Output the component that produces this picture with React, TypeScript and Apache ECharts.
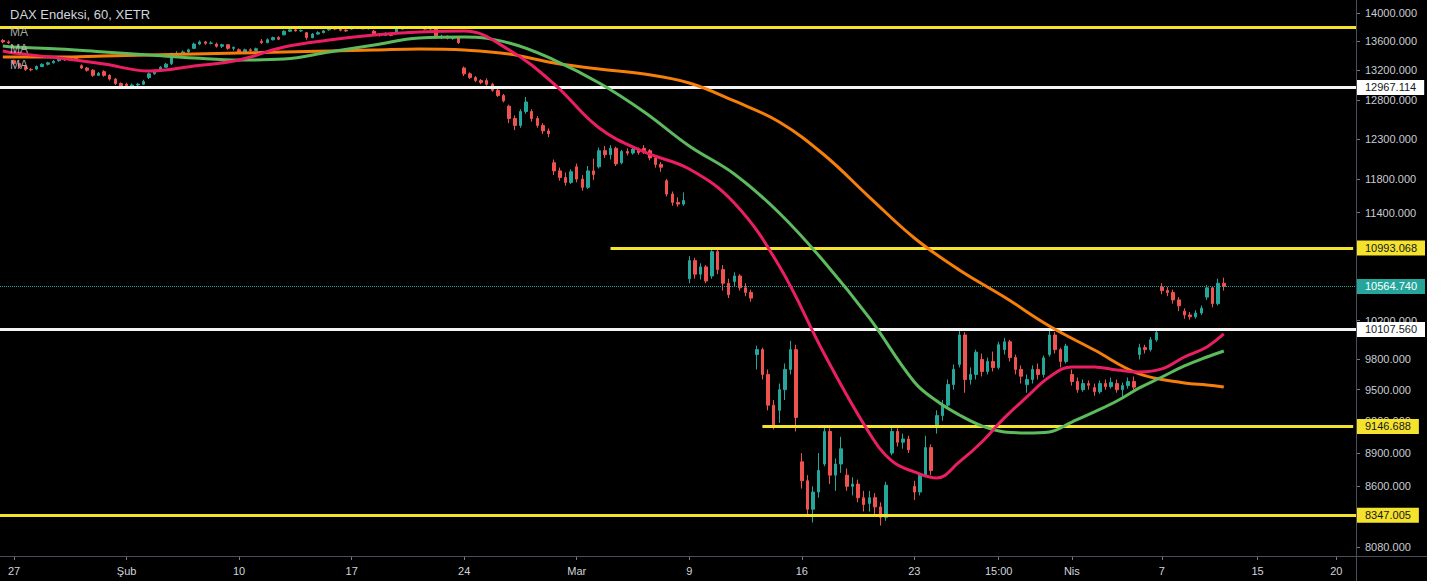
import React, { useEffect, useRef } from 'react';
import * as echarts from 'echarts';

// ---------- DATA ----------
const preDay = '24 Oca';
const preSlots = ['13:00', '15:00'];
const slots = ['09:00', '11:00', '13:00', '15:00'];
const tradingDays = [
  '27 Oca', '28 Oca', '29 Oca', '30 Oca', '31 Oca',
  '3 Şub', '4 Şub', '5 Şub', '6 Şub', '7 Şub',
  '10 Şub', '11 Şub', '12 Şub', '13 Şub', '14 Şub',
  '17 Şub', '18 Şub', '19 Şub', '20 Şub', '21 Şub',
  '24 Şub', '25 Şub', '26 Şub', '27 Şub', '28 Şub',
  '2 Mar', '3 Mar', '4 Mar', '5 Mar', '6 Mar',
  '9 Mar', '10 Mar', '11 Mar', '12 Mar', '13 Mar',
  '16 Mar', '17 Mar', '18 Mar', '19 Mar', '20 Mar',
  '23 Mar', '24 Mar', '25 Mar', '26 Mar', '27 Mar',
  '30 Mar', '31 Mar', '1 Nis', '2 Nis', '3 Nis',
  '6 Nis', '7 Nis', '8 Nis', '9 Nis',
];
const futureDays = ['14 Nis', '15 Nis', '16 Nis', '17 Nis', '20 Nis', '21 Nis'];
const futureBarCount = 23;

const categories: string[] = [
  ...preSlots.map((s) => `${preDay} ${s}`),
  ...tradingDays.flatMap((d) => slots.map((s) => `${d} ${s}`)),
  ...futureDays.flatMap((d) => slots.map((s) => `${d} ${s}`)).slice(0, futureBarCount),
];

// [open, close, low, high]
const candles: number[][] = [
  [13610, 13590, 13570, 13630], [13590, 13577, 13560, 13610],
  [13330, 13290, 13270, 13345], [13290, 13250, 13230, 13300], [13250, 13210, 13190, 13265], [13210, 13205, 13185, 13230],
  [13215, 13250, 13200, 13265], [13250, 13280, 13240, 13295], [13280, 13300, 13265, 13315], [13300, 13323, 13290, 13340],
  [13330, 13350, 13315, 13365], [13350, 13340, 13325, 13370], [13340, 13370, 13330, 13385], [13370, 13345, 13335, 13390],
  [13260, 13230, 13215, 13280], [13230, 13200, 13180, 13245], [13200, 13130, 13110, 13215], [13130, 13157, 13120, 13175],
  [13180, 13130, 13110, 13200], [13130, 13080, 13060, 13145], [13080, 13020, 13000, 13095], [13020, 12982, 12960, 13035],
  [13010, 12990, 12970, 13030], [12990, 13000, 12960, 13020], [13000, 13010, 12985, 13030], [13010, 13046, 13000, 13070],
  [13100, 13150, 13080, 13170], [13150, 13190, 13140, 13210], [13190, 13240, 13180, 13255], [13240, 13282, 13230, 13300],
  [13290, 13420, 13270, 13440], [13420, 13430, 13400, 13460], [13430, 13450, 13410, 13470], [13450, 13479, 13430, 13495],
  [13500, 13560, 13490, 13580], [13560, 13590, 13545, 13610], [13590, 13570, 13550, 13605], [13570, 13575, 13555, 13600],
  [13560, 13530, 13510, 13580], [13530, 13550, 13505, 13565], [13550, 13500, 13480, 13560], [13500, 13514, 13470, 13525],
  [13480, 13450, 13430, 13500], [13450, 13480, 13440, 13495], [13480, 13470, 13455, 13500], [13470, 13494, 13460, 13510],
  [13600, 13580, 13560, 13630], [13580, 13620, 13570, 13640], [13620, 13650, 13610, 13665], [13650, 13627, 13615, 13670],
  [13690, 13740, 13680, 13755], [13740, 13760, 13730, 13775], [13760, 13745, 13735, 13780], [13745, 13749, 13730, 13765],
  [13720, 13650, 13620, 13730], [13650, 13700, 13640, 13715], [13700, 13720, 13690, 13740], [13720, 13745, 13710, 13755],
  [13760, 13780, 13745, 13795], [13780, 13770, 13755, 13800], [13770, 13755, 13740, 13785], [13755, 13744, 13730, 13770],
  [13770, 13785, 13760, 13800], [13785, 13790, 13770, 13805], [13790, 13775, 13765, 13800], [13775, 13783, 13765, 13795],
  [13740, 13700, 13685, 13760], [13700, 13680, 13665, 13715], [13680, 13710, 13670, 13725], [13710, 13681, 13670, 13720],
  [13730, 13770, 13720, 13785], [13770, 13790, 13760, 13805], [13790, 13780, 13770, 13810], [13780, 13789, 13770, 13800],
  [13800, 13790, 13775, 13815], [13790, 13770, 13760, 13805], [13770, 13780, 13755, 13795], [13780, 13665, 13630, 13790],
  [13650, 13670, 13630, 13690], [13670, 13640, 13625, 13680], [13640, 13650, 13620, 13665], [13650, 13579, 13560, 13660],
  [13230, 13150, 13120, 13250], [13150, 13100, 13080, 13170], [13100, 13060, 13040, 13120], [13060, 13035, 13010, 13080],
  [13060, 13010, 12990, 13090], [13010, 12930, 12910, 13030], [12930, 12860, 12840, 12950], [12860, 12790, 12770, 12880],
  [12720, 12560, 12500, 12740], [12560, 12470, 12410, 12600], [12470, 12650, 12440, 12680], [12650, 12775, 12620, 12840],
  [12650, 12560, 12520, 12680], [12560, 12470, 12440, 12590], [12470, 12400, 12360, 12500], [12400, 12367, 12320, 12430],
  [12000, 11900, 11850, 12040], [11900, 11820, 11780, 11940], [11820, 11760, 11720, 11880], [11760, 11890, 11740, 11920],
  [11950, 11800, 11760, 11990], [11800, 11700, 11660, 11850], [11700, 11900, 11680, 11960], [11900, 11857, 11790, 12050],
  [11950, 12150, 11930, 12190], [12150, 12100, 12060, 12210], [12100, 12180, 12040, 12220], [12180, 11986, 11960, 12200],
  [12000, 12140, 11980, 12160], [12140, 12120, 12090, 12180], [12120, 12170, 12100, 12200], [12170, 12128, 12100, 12190],
  [12180, 12150, 12110, 12220], [12150, 12060, 12030, 12170], [12060, 11980, 11940, 12080], [11980, 11945, 11890, 12010],
  [11780, 11620, 11590, 11800], [11620, 11520, 11480, 11650], [11520, 11500, 11470, 11580], [11500, 11542, 11480, 11640],
  [10650, 10850, 10600, 10900], [10850, 10700, 10650, 10880], [10700, 10780, 10640, 10820], [10780, 10625, 10600, 10800],
  [10680, 10950, 10650, 11000], [10950, 10750, 10700, 10990], [10750, 10600, 10520, 10800], [10600, 10475, 10440, 10650],
  [10620, 10680, 10560, 10720], [10680, 10550, 10520, 10700], [10550, 10500, 10460, 10600], [10500, 10439, 10400, 10530],
  [9850, 9900, 9700, 9940], [9900, 9650, 9600, 9920], [9650, 9350, 9300, 9700], [9350, 9161, 9120, 9400],
  [9300, 9500, 9180, 9560], [9500, 9700, 9400, 9760], [9700, 9900, 9650, 9990], [9900, 9232, 9100, 9950],
  [8820, 8650, 8580, 8900], [8650, 8400, 8350, 8700], [8400, 8550, 8285, 8600], [8550, 8742, 8500, 8900],
  [8800, 9100, 8780, 9160], [9100, 8700, 8620, 9130], [8700, 8800, 8560, 8850], [8800, 8939, 8720, 9050],
  [8700, 8600, 8560, 8760], [8600, 8620, 8520, 8680], [8620, 8500, 8460, 8660], [8500, 8441, 8380, 8560],
  [8450, 8500, 8380, 8560], [8500, 8420, 8350, 8540], [8420, 8330, 8260, 8460], [8330, 8610, 8300, 8640],
  [8900, 9100, 8880, 9150], [9100, 9000, 8960, 9130], [9000, 9030, 8940, 9080], [9030, 8929, 8900, 9060],
  [8600, 8550, 8480, 8650], [8550, 8700, 8520, 8720], [8700, 8950, 8680, 9060], [8950, 8741, 8700, 8980],
  [9150, 9250, 9080, 9300], [9250, 9350, 9200, 9400], [9350, 9550, 9320, 9600], [9550, 9701, 9500, 9750],
  [9750, 10050, 9720, 10120], [10050, 9600, 9470, 10080], [9600, 9650, 9550, 9720], [9650, 9874, 9600, 9900],
  [9800, 9680, 9630, 9860], [9680, 9780, 9650, 9820], [9780, 9720, 9680, 9880], [9720, 9950, 9700, 9980],
  [9900, 9980, 9850, 10020], [9980, 9820, 9780, 10000], [9820, 9700, 9650, 9850], [9700, 9633, 9560, 9740],
  [9550, 9600, 9470, 9650], [9600, 9700, 9560, 9740], [9700, 9650, 9600, 9760], [9650, 9816, 9620, 9840],
  [9850, 10050, 9830, 10100], [10050, 9900, 9860, 10080], [9900, 9780, 9720, 9920], [9780, 9936, 9760, 9960],
  [9650, 9580, 9540, 9700], [9580, 9500, 9470, 9620], [9500, 9560, 9480, 9600], [9560, 9544, 9500, 9590],
  [9520, 9480, 9440, 9560], [9480, 9560, 9460, 9590], [9560, 9530, 9500, 9600], [9530, 9571, 9510, 9620],
  [9560, 9500, 9470, 9600], [9500, 9540, 9420, 9570], [9540, 9580, 9510, 9620], [9580, 9525, 9500, 9630],
  [9850, 9920, 9800, 9960], [9920, 9900, 9860, 9950], [9900, 10000, 9880, 10030], [10000, 10075, 9980, 10110],
  [10560, 10520, 10480, 10600], [10520, 10500, 10460, 10560], [10500, 10420, 10380, 10530], [10420, 10357, 10300, 10450],
  [10300, 10260, 10220, 10330], [10260, 10240, 10210, 10290], [10240, 10280, 10220, 10310], [10280, 10332, 10260, 10360],
  [10450, 10550, 10420, 10580], [10550, 10380, 10340, 10570], [10380, 10600, 10360, 10650], [10600, 10564.74, 10520, 10660],
];

const maFast: [string, number][] = [
  ['24 Oca 13:00', 13463], ['27 Oca 09:00', 13435], ['29 Oca 09:00', 13366], ['31 Oca 09:00', 13284],
  ['4 Şub 09:00', 13189], ['6 Şub 09:00', 13257], ['10 Şub 09:00', 13339], ['12 Şub 09:00', 13518],
  ['14 Şub 09:00', 13616], ['18 Şub 09:00', 13687], ['20 Şub 09:00', 13729], ['24 Şub 09:00', 13743],
  ['26 Şub 09:00', 13477], ['28 Şub 09:00', 13013], ['3 Mar 09:00', 12437], ['5 Mar 09:00', 12134],
  ['9 Mar 09:00', 11923], ['11 Mar 09:00', 11513], ['13 Mar 09:00', 10790], ['17 Mar 09:00', 9856],
  ['19 Mar 09:00', 9086], ['20 Mar 09:00', 8828], ['23 Mar 09:00', 8729], ['24 Mar 09:00', 8675],
  ['25 Mar 09:00', 8819], ['26 Mar 09:00', 9002], ['27 Mar 09:00', 9228], ['30 Mar 09:00', 9429],
  ['31 Mar 09:00', 9625], ['1 Nis 09:00', 9725], ['2 Nis 09:00', 9725], ['3 Nis 09:00', 9695],
  ['6 Nis 09:00', 9675], ['7 Nis 09:00', 9705], ['8 Nis 09:00', 9825], ['9 Nis 09:00', 9927],
  ['9 Nis 15:00', 10061],
];

const maMid: [string, number][] = [
  ['24 Oca 13:00', 13532], ['27 Oca 09:00', 13518], ['29 Oca 09:00', 13491], ['31 Oca 09:00', 13449],
  ['4 Şub 09:00', 13408], ['6 Şub 09:00', 13366], ['10 Şub 09:00', 13339], ['12 Şub 09:00', 13353],
  ['14 Şub 09:00', 13449], ['18 Şub 09:00', 13546], ['20 Şub 09:00', 13644], ['24 Şub 09:00', 13658],
  ['26 Şub 09:00', 13574], ['28 Şub 09:00', 13339], ['3 Mar 09:00', 13027], ['5 Mar 09:00', 12644],
  ['9 Mar 09:00', 12209], ['11 Mar 09:00', 11862], ['13 Mar 09:00', 11395], ['17 Mar 09:00', 10835],
  ['19 Mar 09:00', 10228], ['23 Mar 09:00', 9576], ['24 Mar 09:00', 9390], ['25 Mar 09:00', 9256],
  ['26 Mar 09:00', 9152], ['27 Mar 09:00', 9096], ['30 Mar 09:00', 9086], ['31 Mar 09:00', 9096],
  ['1 Nis 09:00', 9189], ['2 Nis 09:00', 9285], ['3 Nis 09:00', 9390], ['6 Nis 09:00', 9517],
  ['7 Nis 09:00', 9625], ['8 Nis 09:00', 9735], ['9 Nis 09:00', 9825], ['9 Nis 15:00', 9886],
];

const maSlow: [string, number][] = [
  ['24 Oca 13:00', 13380], ['29 Oca 09:00', 13380], ['31 Oca 09:00', 13394], ['4 Şub 09:00', 13408],
  ['6 Şub 09:00', 13422], ['10 Şub 09:00', 13435], ['12 Şub 09:00', 13449], ['14 Şub 09:00', 13463],
  ['18 Şub 09:00', 13477], ['20 Şub 09:00', 13491], ['24 Şub 09:00', 13477], ['26 Şub 09:00', 13422],
  ['28 Şub 09:00', 13298], ['3 Mar 09:00', 13216], ['5 Mar 09:00', 13148], ['9 Mar 09:00', 13027],
  ['11 Mar 09:00', 12788], ['13 Mar 09:00', 12514], ['17 Mar 09:00', 12096], ['19 Mar 09:00', 11584],
  ['23 Mar 09:00', 11106], ['25 Mar 09:00', 10746], ['27 Mar 09:00', 10451], ['31 Mar 09:00', 10144],
  ['2 Nis 09:00', 9896], ['6 Nis 09:00', 9655], ['8 Nis 09:00', 9566], ['9 Nis 09:00', 9546],
  ['9 Nis 15:00', 9527],
];

const xTickLabels: [string, string][] = [
  ['27 Oca 09:00', '27'], ['3 Şub 09:00', 'Şub'], ['10 Şub 09:00', '10'], ['17 Şub 09:00', '17'],
  ['24 Şub 09:00', '24'], ['2 Mar 09:00', 'Mar'], ['9 Mar 09:00', '9'], ['16 Mar 09:00', '16'],
  ['23 Mar 09:00', '23'], ['26 Mar 15:00', '15:00'], ['1 Nis 09:00', 'Nis'], ['7 Nis 09:00', '7'],
  ['15 Nis 11:00', '15'], ['20 Nis 15:00', '20'],
];

const yTickValues = [14000, 13600, 13200, 12800, 12300, 11800, 11400, 10200, 9800, 9500, 9200, 8900, 8600, 8080];

const topResistance = 13800;
const whiteLevels = [12967.114, 10107.56];
const bottomSupport = 8347.005;
const partialLevels: [string, number][] = [['3 Mar 13:00', 10993.068], ['12 Mar 11:00', 9146.688]];
const lastPrice = 10564.74;

const title = 'DAX Endeksi, 60, XETR';
const maNames = ['MA', 'MA', 'MA'];

// ---------- CHART ----------
const FONT = "'Liberation Sans', Arial, sans-serif";
const UP = '#26a69a';
const DOWN = '#ef5350';
const YELLOW = '#f4e22c';
const WHITE = '#f4f4f4';
const DARK = '#131722';

const tag = (value: number, bg: string, fg: string) => ({
  show: true,
  position: 'end',
  distance: 1,
  formatter: () => value.toFixed(3),
  backgroundColor: bg,
  color: fg,
  fontFamily: FONT,
  fontSize: 11,
  padding: [2, 8, 2, 8],
  borderRadius: 0,
});

function buildOption(): any {
  const labelMap = new Map(xTickLabels);
  const lastCat = categories[categories.length - 1];
  const showTick = (_i: number, v: string) => labelMap.has(v);

  const markData: any[] = [
    { yAxis: topResistance, lineStyle: { color: YELLOW, width: 3, type: 'solid' }, label: { show: false } },
    { yAxis: bottomSupport, lineStyle: { color: YELLOW, width: 3, type: 'solid' }, label: tag(bottomSupport, YELLOW, DARK) },
    ...whiteLevels.map((v) => ({ yAxis: v, lineStyle: { color: WHITE, width: 3, type: 'solid' }, label: tag(v, '#ffffff', DARK) })),
    { yAxis: lastPrice, lineStyle: { color: UP, width: 1, type: 'dotted' }, label: tag(lastPrice, UP, '#ffffff') },
    ...partialLevels.map(([, v]) => ({ yAxis: v, lineStyle: { color: 'rgba(0,0,0,0)', width: 1, type: 'solid' }, label: tag(v, YELLOW, DARK) })),
    ...partialLevels.map(([c, v]) => [
      { coord: [c, v], lineStyle: { color: YELLOW, width: 3, type: 'solid' }, label: { show: false } },
      { coord: [lastCat, v] },
    ]),
  ];

  const maSeries = (name: string, data: [string, number][], color: string) => ({
    name,
    type: 'line',
    data,
    smooth: 0.4,
    showSymbol: false,
    symbol: 'none',
    lineStyle: { color, width: 3 },
    z: 4,
    silent: true,
  });

  return {
    animation: false,
    backgroundColor: '#000000',
    grid: { left: 0, right: 71, top: 0, bottom: 25, containLabel: false },
    xAxis: {
      type: 'category',
      data: categories,
      boundaryGap: true,
      axisLine: { show: false },
      axisTick: { show: true, interval: showTick, alignWithLabel: true, length: 4, lineStyle: { color: '#787b86' } },
      axisLabel: {
        interval: showTick,
        formatter: (v: string) => labelMap.get(v) ?? '',
        color: '#d1d4dc',
        fontFamily: FONT,
        fontSize: 11,
        margin: 9,
      },
      splitLine: { show: false },
    },
    yAxis: {
      type: 'log',
      logBase: 10,
      position: 'right',
      min: 8005,
      max: 14189,
      axisLine: { show: false },
      axisTick: { show: true, customValues: yTickValues, length: 4, lineStyle: { color: '#787b86' } },
      axisLabel: {
        customValues: yTickValues,
        formatter: (v: number) => Number(v).toFixed(3),
        color: '#c9ccd4',
        fontFamily: FONT,
        fontSize: 11,
        margin: 9,
      },
      splitLine: { show: false },
    },
    graphic: [
      { type: 'line', silent: true, shape: { x1: 1356.5, y1: 0, x2: 1356.5, y2: 581 }, style: { stroke: '#4a4e59', lineWidth: 1 }, z: 10 },
      { type: 'line', silent: true, shape: { x1: 0, y1: 556.5, x2: 1427, y2: 556.5 }, style: { stroke: '#4a4e59', lineWidth: 1 }, z: 10 },
      { type: 'text', silent: true, x: 10, y: 8, style: { text: title, fill: '#d1d4dc', font: `13px ${FONT}` }, z: 20 },
      ...maNames.map((t, i) => ({
        type: 'text', silent: true, x: 10, y: 26 + i * 16.5,
        style: { text: t, fill: 'rgba(200,200,200,0.85)', font: `12px ${FONT}` }, z: 20,
      })),
    ],
    series: [
      {
        name: 'DAX',
        type: 'candlestick',
        data: candles,
        barWidth: 3,
        silent: true,
        z: 2,
        itemStyle: { color: UP, color0: DOWN, borderColor: UP, borderColor0: DOWN, borderWidth: 1 },
        markLine: {
          silent: true,
          symbol: ['none', 'none'],
          animation: false,
          z: 3,
          emphasis: { disabled: true },
          data: markData,
        },
      },
      maSeries('MA slow', maSlow, '#f57f0a'),
      maSeries('MA mid', maMid, '#5dbb5d'),
      maSeries('MA fast', maFast, '#ec1e63'),
    ],
  };
}

export default function App() {
  const ref = useRef<HTMLDivElement>(null);
  useEffect(() => {
    if (!ref.current) return;
    const chart = echarts.init(ref.current, null, { renderer: 'svg' });
    chart.setOption(buildOption());
    return () => chart.dispose();
  }, []);
  return (
    <div style={{ position: 'fixed', left: 0, top: 0, width: 1443, height: 584, background: '#ffffff' }}>
      <div ref={ref} style={{ width: 1427, height: 581 }} />
    </div>
  );
}
